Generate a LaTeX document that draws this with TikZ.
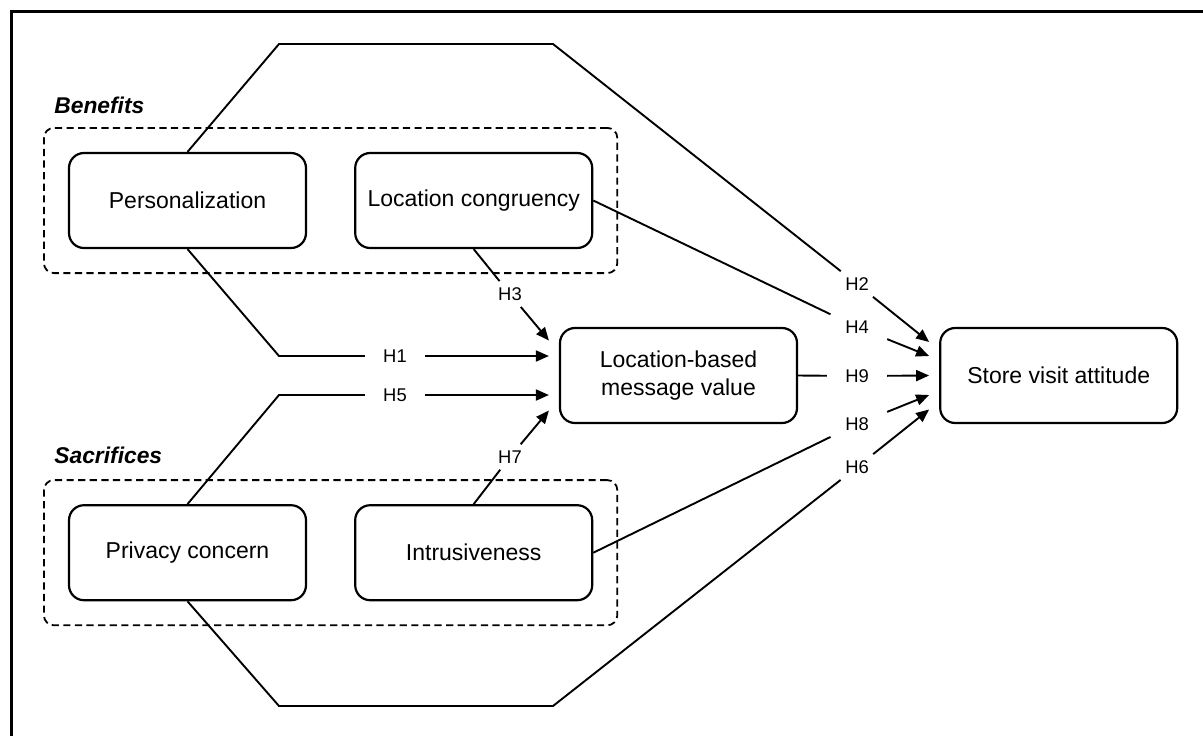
\documentclass[tikz,border=0pt]{standalone}
\usepackage{fontspec}
\setmainfont{Liberation Sans}
\usetikzlibrary{arrows.meta,calc,fit,positioning}
\newcommand\nodeWidth{118.5pt}
\newcommand\nodeHeight{47.5pt}
\newcommand\labX{857}
\newcommand\tipGap{10}
\tikzset{
  construct/.style={draw, line width=1.1pt, rounded corners=7.5pt, minimum width=\nodeWidth, minimum height=\nodeHeight, align=center, inner sep=0pt, font=\fontsize{11.5}{13.8}\selectfont},
  groupbox/.style={draw, dash pattern=on 3.6pt off 2.2pt, line width=0.9pt, rounded corners=5pt, inner sep=12pt},
  grouplabel/.style={anchor=west, inner sep=0pt, font=\fontsize{11.4}{13.7}\selectfont\bfseries\itshape},
  hyp/.style={inner xsep=9pt, inner ysep=3pt, font=\fontsize{9.2}{11}\selectfont},
  conn/.style={line width=0.95pt},
  arr/.style={conn, -{Triangle[length=6.5pt,width=5.5pt]}}
}
\begin{document}
\begin{tikzpicture}[x=0.5pt, y=-0.5pt]
    \clip (0,0) rectangle (1203,735);
    \draw[line width=1.5pt] (11,11) rectangle (1260,800);

    \node[construct] (pers) at (187.5,200.5) {Personalization};
    \node[construct, right=23.5pt of pers] (lc) {Location congruency};
    \node[construct, below=127.5pt of pers] (pc) {Privacy concern};
    \node[construct, right=23.5pt of pc] (intr) {Intrusiveness};
    \node[construct] (lbmv) at (678.5,375.5) {Location-based\\message value};
    \node[construct, right=70.5pt of lbmv] (sva) {Store visit attitude};

    \node[groupbox, fit=(pers)(lc)] (ben) {};
    \node[groupbox, fit=(pc)(intr)] (sac) {};
    \node[grouplabel] (benlab) at (54,105) {Benefits};
    \node[grouplabel] (saclab) at (54,455) {Sacrifices};

    \node[hyp] (h1) at (395,356) {H1};
    \node[hyp] (h5) at (395,395) {H5};
    \node[hyp] (h3) at (510,294) {H3};
    \node[hyp] (h7) at (510,457) {H7};
    \node[hyp] (h2) at (\labX,284) {H2};
    \node[hyp] (h4) at (\labX,327) {H4};
    \node[hyp] (h9) at (\labX,376) {H9};
    \node[hyp] (h8) at (\labX,424) {H8};
    \node[hyp] (h6) at (\labX,467) {H6};

    \draw[conn] (pers.south) -- (279,356) -- (h1);
    \draw[conn] (pc.north) -- (279,395) -- (h5);
    \draw[conn] (lc.south) -- (h3);
    \draw[conn] (intr.north) -- (h7);
    \foreach \n/\dy in {h3/-35,h1/-19.5,h5/19.5,h7/35}{
      \draw[arr] (\n) -- ($(lbmv.west)+(-\tipGap,\dy)$);
    }

    \draw[conn] (pers.north) -- (279,44) -- (553,44) -- (h2);
    \draw[conn] (lc.east) -- (h4);
    \draw[conn] (lbmv.east) -- (h9);
    \draw[conn] (intr.east) -- (h8);
    \draw[conn] (pc.south) -- (279,706) -- (553,706) -- (h6);
    \foreach \n/\dy in {h2/-33.5,h4/-19.5,h9/0,h8/19.5,h6/34}{
      \draw[arr] (\n) -- ($(sva.west)+(-\tipGap,\dy)$);
    }
\end{tikzpicture}
\end{document}
